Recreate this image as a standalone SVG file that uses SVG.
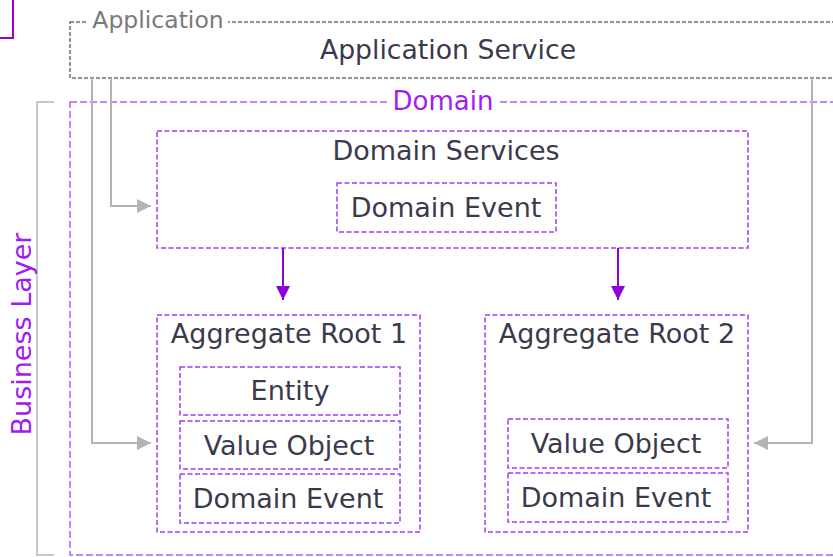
<svg xmlns="http://www.w3.org/2000/svg" width="833" height="557" viewBox="0 0 833 557">
<defs>
<style>
.t{font-family:"DejaVu Sans","Verdana",sans-serif;fill:#3a3a4c;text-anchor:middle}
.n{font-size:27px}
.box{fill:none;stroke:#a33cf5;stroke-width:1.5;stroke-dasharray:5 2.5}
.app{fill:none;stroke:#6e6e78;stroke-width:1.5;stroke-dasharray:4 2}
.dom{fill:none;stroke:#b45cff;stroke-width:1.5;stroke-dasharray:7 3}
.gl{fill:none;stroke:#b4b4b4;stroke-width:2}
.pl{fill:none;stroke:#8e00dc;stroke-width:2}
</style>
<marker id="ga" viewBox="0 0 14 14" refX="14" refY="7" markerWidth="14" markerHeight="14" markerUnits="userSpaceOnUse" orient="auto">
<path d="M0,0 L14,7 L0,14 Z" fill="#b4b4b4"/>
</marker>
<marker id="pa" viewBox="0 0 14 14" refX="14" refY="7" markerWidth="14" markerHeight="14" markerUnits="userSpaceOnUse" orient="auto">
<path d="M0,0 L14,7 L0,14 Z" fill="#8e00dc"/>
</marker>
</defs>
<rect width="833" height="557" fill="#ffffff"/>
<path d="M13,0 V38 H0" fill="none" stroke="#9400d3" stroke-width="2"/>

<g id="business-layer">
<path d="M54,102 H37 V555 H54" fill="none" stroke="#c8c8c8" stroke-width="2"/>
<text class="t" transform="translate(31,334) rotate(-90)" style="fill:#a21cf0;font-size:27px">Business Layer</text>
</g>

<g id="application">
<rect class="app" x="70" y="22" width="800" height="56"/>
<rect x="88" y="8" width="140" height="24" fill="#fff"/>
<text class="t" x="158" y="28" style="fill:#7a7a7a;font-size:23.5px">Application</text>
<text class="t" x="448" y="59" style="font-size:26.7px">Application Service</text>
</g>

<g id="domain">
<rect class="dom" x="70" y="102" width="800" height="453"/>
<rect x="387" y="88" width="112" height="26" fill="#fff"/>
<text class="t" x="443" y="110" style="fill:#a21cf0;font-size:26px">Domain</text>
</g>

<g id="domain-services">
<rect class="box" x="157" y="131" width="591" height="117"/>
<text class="t n" x="446" y="160">Domain Services</text>
</g>
<g id="ds-domain-event">
<rect class="box" x="337" y="183" width="219" height="49"/>
<text class="t n" x="446" y="217">Domain Event</text>
</g>

<g id="aggregate-root-1">
<rect class="box" x="157" y="315" width="263" height="217"/>
<text class="t n" x="289" y="343">Aggregate Root 1</text>
</g>
<g id="ar1-entity">
<rect class="box" x="180" y="367" width="220" height="48"/>
<text class="t n" x="290" y="400">Entity</text>
</g>
<g id="ar1-value-object">
<rect class="box" x="180" y="421" width="220" height="48"/>
<text class="t n" x="289" y="455">Value Object</text>
</g>
<g id="ar1-domain-event">
<rect class="box" x="180" y="474" width="220" height="49"/>
<text class="t n" x="288" y="508">Domain Event</text>
</g>

<g id="aggregate-root-2">
<rect class="box" x="485" y="315" width="263" height="217"/>
<text class="t n" x="617" y="343">Aggregate Root 2</text>
</g>
<g id="ar2-value-object">
<rect class="box" x="508" y="419" width="220" height="49"/>
<text class="t n" x="616" y="453">Value Object</text>
</g>
<g id="ar2-domain-event">
<rect class="box" x="508" y="473" width="220" height="49"/>
<text class="t n" x="616" y="507">Domain Event</text>
</g>

<g id="connectors">
<path class="gl" d="M111,78 V206 H151" marker-end="url(#ga)"/>
<path class="gl" d="M92,78 V443 H151" marker-end="url(#ga)"/>
<path class="gl" d="M812,78 V443 H754" marker-end="url(#ga)"/>
<path class="pl" d="M283,248 V300" marker-end="url(#pa)"/>
<path class="pl" d="M618,248 V300" marker-end="url(#pa)"/>
</g>
</svg>
